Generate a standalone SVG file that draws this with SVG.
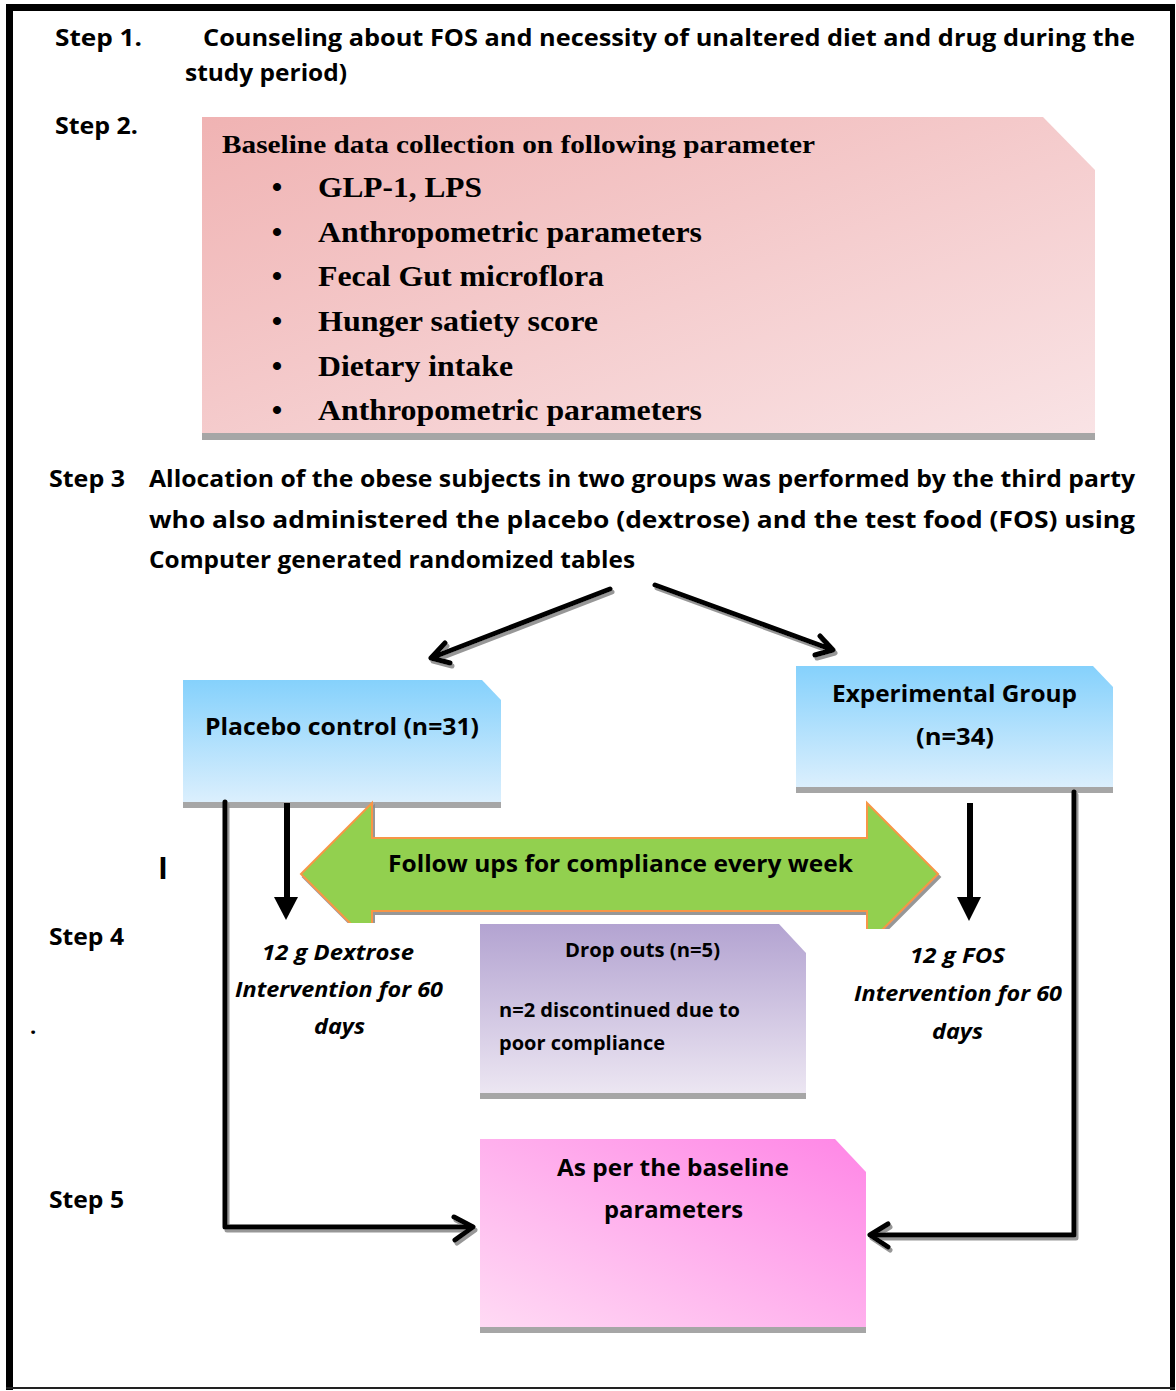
<svg xmlns="http://www.w3.org/2000/svg" width="1176" height="1391" viewBox="0 0 1176 1391">
<defs>
<style>
.sans{font-family:"Open Sans","Noto Sans","Liberation Sans",sans-serif;font-weight:700;fill:#000}
.ital{font-family:"Open Sans","Noto Sans","Liberation Sans",sans-serif;font-weight:700;font-style:italic;fill:#000}
.serif{font-family:"Liberation Serif","DejaVu Serif",serif;font-weight:700;fill:#000}
.strip{fill:#a6a6a6}
.conn{fill:none;stroke:#000;stroke-linecap:round;stroke-linejoin:round}
</style>
<linearGradient id="gPink" x1="0" y1="0" x2="1" y2="1">
<stop offset="0" stop-color="#f0b3b3"/><stop offset="1" stop-color="#f9e3e5"/>
</linearGradient>
<linearGradient id="gBlue" x1="0" y1="0" x2="0" y2="1">
<stop offset="0" stop-color="#85d1fc"/><stop offset="1" stop-color="#dbeffd"/>
</linearGradient>
<linearGradient id="gPurple" x1="0" y1="0" x2="0" y2="1">
<stop offset="0" stop-color="#b3a3d1"/><stop offset="1" stop-color="#ece6f2"/>
</linearGradient>
<linearGradient id="gMag" x1="1" y1="0" x2="0" y2="1">
<stop offset="0" stop-color="#ff86e6"/><stop offset="1" stop-color="#ffdaf4"/>
</linearGradient>
<filter id="shadow" x="-10%" y="-10%" width="120%" height="130%">
<feDropShadow dx="2" dy="3" stdDeviation="0.6" flood-color="#8c8c8c" flood-opacity="0.9"/>
</filter>
<clipPath id="greenClip">
<path d="M280,790 H960 V929 H376 V923 H280 Z"/>
</clipPath>
</defs>

<rect x="0" y="0" width="1176" height="1391" fill="#fff"/>

<!-- frame -->
<g id="frame">
<rect x="6" y="4" width="7" height="1386" fill="#000"/>
<rect x="6" y="4" width="1169" height="7" fill="#000"/>
<rect x="1170" y="4" width="5" height="1386" fill="#000"/>
<rect x="6" y="1387" width="1169" height="2" fill="#222"/>
</g>

<!-- step labels and text -->
<g id="step1">
<text class="sans" x="55" y="46" font-size="22.5" textLength="87" lengthAdjust="spacingAndGlyphs">Step 1.</text>
<text class="sans" x="203" y="46" font-size="22.5" textLength="932" lengthAdjust="spacingAndGlyphs">Counseling about FOS and necessity of unaltered diet and drug during the</text>
<text class="sans" x="185" y="81" font-size="22.5" textLength="162" lengthAdjust="spacingAndGlyphs">study period)</text>
</g>
<g id="step2-label">
<text class="sans" x="55" y="134" font-size="22.5" textLength="83" lengthAdjust="spacingAndGlyphs">Step 2.</text>
</g>

<g id="baseline-box">
<path d="M202,117 H1043 L1095,170 V433 H202 Z" fill="url(#gPink)"/>
<rect class="strip" x="202" y="433" width="893" height="7"/>
<text class="serif" x="222" y="153" font-size="25" textLength="593" lengthAdjust="spacingAndGlyphs">Baseline data collection on following parameter</text>
<g font-size="30">
<text class="serif" x="277" y="197" text-anchor="middle">•</text>
<text class="serif" x="318" y="197" textLength="164" lengthAdjust="spacingAndGlyphs">GLP-1, LPS</text>
<text class="serif" x="277" y="242" text-anchor="middle">•</text>
<text class="serif" x="318" y="242" textLength="384" lengthAdjust="spacingAndGlyphs">Anthropometric parameters</text>
<text class="serif" x="277" y="286" text-anchor="middle">•</text>
<text class="serif" x="318" y="286" textLength="286" lengthAdjust="spacingAndGlyphs">Fecal Gut microflora</text>
<text class="serif" x="277" y="331" text-anchor="middle">•</text>
<text class="serif" x="318" y="331" textLength="280" lengthAdjust="spacingAndGlyphs">Hunger satiety score</text>
<text class="serif" x="277" y="376" text-anchor="middle">•</text>
<text class="serif" x="318" y="376" textLength="195" lengthAdjust="spacingAndGlyphs">Dietary intake</text>
<text class="serif" x="277" y="420" text-anchor="middle">•</text>
<text class="serif" x="318" y="420" textLength="384" lengthAdjust="spacingAndGlyphs">Anthropometric parameters</text>
</g>
</g>

<g id="step3">
<text class="sans" x="49" y="487" font-size="22.5" textLength="76" lengthAdjust="spacingAndGlyphs">Step 3</text>
<text class="sans" x="149" y="487" font-size="22.5" textLength="986" lengthAdjust="spacingAndGlyphs">Allocation of the obese subjects in two groups was performed by the third party</text>
<text class="sans" x="149" y="528" font-size="22.5" textLength="986" lengthAdjust="spacingAndGlyphs">who also administered the placebo (dextrose) and the test food (FOS) using</text>
<text class="sans" x="149" y="568" font-size="22.5" textLength="486" lengthAdjust="spacingAndGlyphs">Computer generated randomized tables</text>
</g>

<g id="step4-label">
<text class="sans" x="49" y="945" font-size="22.5" textLength="75" lengthAdjust="spacingAndGlyphs">Step 4</text>
</g>
<g id="step5-label">
<text class="sans" x="49" y="1208" font-size="22.5" textLength="75" lengthAdjust="spacingAndGlyphs">Step 5</text>
</g>

<g id="stray-marks">
<text class="sans" x="158" y="879" font-size="30">I</text>
<text class="sans" x="30" y="1034" font-size="22">.</text>
</g>

<!-- nodes -->
<g id="placebo">
<path d="M183,680 H482 L501,700 V802 H183 Z" fill="url(#gBlue)"/>
<rect class="strip" x="183" y="802" width="318" height="6"/>
<text class="sans" x="205" y="735" font-size="23" textLength="274" lengthAdjust="spacingAndGlyphs">Placebo control (n=31)</text>
</g>

<g id="experimental">
<path d="M796,666 H1093 L1113,687 V787 H796 Z" fill="url(#gBlue)"/>
<rect class="strip" x="796" y="787" width="317" height="6"/>
<text class="sans" x="832" y="702" font-size="23" textLength="245" lengthAdjust="spacingAndGlyphs">Experimental Group</text>
<text class="sans" x="916" y="745" font-size="23" textLength="78" lengthAdjust="spacingAndGlyphs">(n=34)</text>
</g>

<g id="dextrose">
<text class="ital" x="262" y="960" font-size="21" textLength="152" lengthAdjust="spacingAndGlyphs">12 g Dextrose</text>
<text class="ital" x="235" y="997" font-size="21" textLength="208" lengthAdjust="spacingAndGlyphs">Intervention for 60</text>
<text class="ital" x="314" y="1034" font-size="21" textLength="51" lengthAdjust="spacingAndGlyphs">days</text>
</g>

<g id="fos">
<text class="ital" x="910" y="963" font-size="21" textLength="95" lengthAdjust="spacingAndGlyphs">12 g FOS</text>
<text class="ital" x="854" y="1001" font-size="21" textLength="208" lengthAdjust="spacingAndGlyphs">Intervention for 60</text>
<text class="ital" x="932" y="1039" font-size="21" textLength="51" lengthAdjust="spacingAndGlyphs">days</text>
</g>

<g id="dropouts">
<path d="M480,924 H779 L806,953 V1093 H480 Z" fill="url(#gPurple)"/>
<rect class="strip" x="480" y="1093" width="326" height="6"/>
<text class="sans" x="565" y="957" font-size="19" textLength="155" lengthAdjust="spacingAndGlyphs">Drop outs (n=5)</text>
<text class="sans" x="499" y="1017" font-size="19" textLength="241" lengthAdjust="spacingAndGlyphs">n=2 discontinued due to</text>
<text class="sans" x="499" y="1050" font-size="19" textLength="166" lengthAdjust="spacingAndGlyphs">poor compliance</text>
</g>

<g id="outcome">
<path d="M480,1139 H835 L866,1172 V1327 H480 Z" fill="url(#gMag)"/>
<rect class="strip" x="480" y="1327" width="386" height="6"/>
<text class="sans" x="557" y="1176" font-size="23" textLength="232" lengthAdjust="spacingAndGlyphs">As per the baseline</text>
<text class="sans" x="604" y="1218" font-size="23" textLength="139" lengthAdjust="spacingAndGlyphs">parameters</text>
</g>

<g id="followup">
<g clip-path="url(#greenClip)">
<path d="M301,874 L372,803 L372,838 L867,838 L867,803 L938,874 L867,945 L867,911 L372,911 L372,945 Z" fill="#92d050" stroke="#f79646" stroke-width="2" stroke-linejoin="miter" filter="url(#shadow)"/>
</g>
<text class="sans" x="388" y="872" font-size="23" textLength="465" lengthAdjust="spacingAndGlyphs">Follow ups for compliance every week</text>
</g>

<!-- connectors -->
<g id="connectors">
<g filter="url(#shadow)">
<path class="conn" stroke-width="5" d="M610,589 L431,658 M445,643 L431,658 L450,663"/>
<path class="conn" stroke-width="5" d="M655,585 L833,650 M820,636 L833,650 L815,655"/>
<path class="conn" stroke-width="5" stroke-linecap="butt" d="M225,802 V1227 H472"/>
<path class="conn" stroke-width="5" d="M454,1217 L473,1227 L455,1240"/>
<path class="conn" stroke-width="5" stroke-linecap="butt" d="M1074,792 V1235 H872"/>
<path class="conn" stroke-width="5" d="M888,1224 L870,1235 L888,1247"/>
</g>
<path d="M287,803 V900" stroke="#000" stroke-width="6" fill="none"/>
<path d="M274,897 L298,897 L286,920 Z" fill="#000"/>
<path d="M970,803 V900" stroke="#000" stroke-width="6" fill="none"/>
<path d="M957,897 L981,897 L969,921 Z" fill="#000"/>
</g>
</svg>
